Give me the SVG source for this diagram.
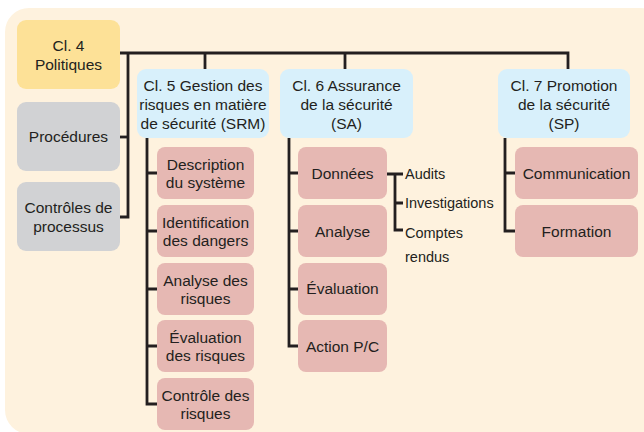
<svg xmlns="http://www.w3.org/2000/svg" width="644" height="432" viewBox="0 0 644 432">
<style>
text{font-family:"Liberation Sans",Arial,sans-serif;font-size:15.5px;fill:#231F20;text-anchor:middle}
.s{font-size:14.5px;text-anchor:start}
.y{fill:#FDE197}
.g{fill:#D1D2D4}
.b{fill:#D8F0FB}
.p{fill:#E6B8B3}
#connectors path{fill:none;stroke:#231F20;stroke-width:2.8}
</style>
<rect x="5" y="8" width="660" height="426" rx="24" fill="#FEF2DE"/>
<g id="connectors">
<path d="M120,53 H568 V69"/>
<path d="M205,53 V69"/>
<path d="M345,53 V69"/>
<path d="M128,53 V217 H120"/>
<path d="M120,137 H128"/>
<path d="M147,138 V404 H157 M147,173 H157 M147,231 H157 M147,289 H157 M147,346 H157"/>
<path d="M289,138 V346 H298 M289,173 H298 M289,231 H298 M289,289 H298"/>
<path d="M387,174 H403 M395,174 V230 H403 M395,203 H403"/>
<path d="M505,138 V231 H515 M505,173 H515"/>
</g>
<g id="cl4"><rect class="y" x="17" y="20" width="103" height="69" rx="9"/><text x="68.5" y="51">Cl. 4</text><text x="68.5" y="70">Politiques</text></g>
<g id="procedures"><rect class="g" x="17" y="102" width="103" height="69" rx="9"/><text x="68.5" y="142">Procédures</text></g>
<g id="controles"><rect class="g" x="17" y="182" width="103" height="69" rx="9"/><text x="68.5" y="213">Contrôles de</text><text x="68.5" y="232">processus</text></g>
<g id="cl5"><rect class="b" x="137" y="69" width="132" height="69" rx="9"/><text x="203" y="91">Cl. 5 Gestion des</text><text x="203" y="110">risques en matière</text><text x="203" y="129">de sécurité (SRM)</text></g>
<g id="cl6"><rect class="b" x="280" y="69" width="133" height="69" rx="9"/><text x="346.5" y="91">Cl. 6 Assurance</text><text x="346.5" y="110">de la sécurité</text><text x="346.5" y="129">(SA)</text></g>
<g id="cl7"><rect class="b" x="498" y="69" width="132" height="69" rx="9"/><text x="564" y="91">Cl. 7 Promotion</text><text x="564" y="110">de la sécurité</text><text x="564" y="129">(SP)</text></g>
<g id="description"><rect class="p" x="157" y="147" width="97" height="52" rx="8"/><text x="205.5" y="170">Description</text><text x="205.5" y="188">du système</text></g>
<g id="identification"><rect class="p" x="157" y="205" width="97" height="52" rx="8"/><text x="205.5" y="228">Identification</text><text x="205.5" y="246">des dangers</text></g>
<g id="analyse-risques"><rect class="p" x="157" y="263" width="97" height="52" rx="8"/><text x="205.5" y="286">Analyse des</text><text x="205.5" y="304">risques</text></g>
<g id="evaluation-risques"><rect class="p" x="157" y="320" width="97" height="52" rx="8"/><text x="205.5" y="343">Évaluation</text><text x="205.5" y="361">des risques</text></g>
<g id="controle-risques"><rect class="p" x="157" y="378" width="97" height="52" rx="8"/><text x="205.5" y="401">Contrôle des</text><text x="205.5" y="419">risques</text></g>
<g id="donnees"><rect class="p" x="298" y="147" width="89" height="52" rx="8"/><text x="342.5" y="179">Données</text></g>
<g id="analyse"><rect class="p" x="298" y="205" width="89" height="52" rx="8"/><text x="342.5" y="237">Analyse</text></g>
<g id="evaluation"><rect class="p" x="298" y="263" width="89" height="52" rx="8"/><text x="342.5" y="294">Évaluation</text></g>
<g id="action"><rect class="p" x="298" y="320" width="89" height="52" rx="8"/><text x="342.5" y="352">Action P/C</text></g>
<g id="communication"><rect class="p" x="515" y="147" width="123" height="52" rx="8"/><text x="576.5" y="179">Communication</text></g>
<g id="formation"><rect class="p" x="515" y="205" width="123" height="52" rx="8"/><text x="576.5" y="237">Formation</text></g>
<g id="audits"><text class="s" x="405" y="179">Audits</text></g>
<g id="investigations"><text class="s" x="405" y="208">Investigations</text></g>
<g id="comptes"><text class="s" x="405" y="238">Comptes</text><text class="s" x="405" y="262">rendus</text></g>
</svg>
